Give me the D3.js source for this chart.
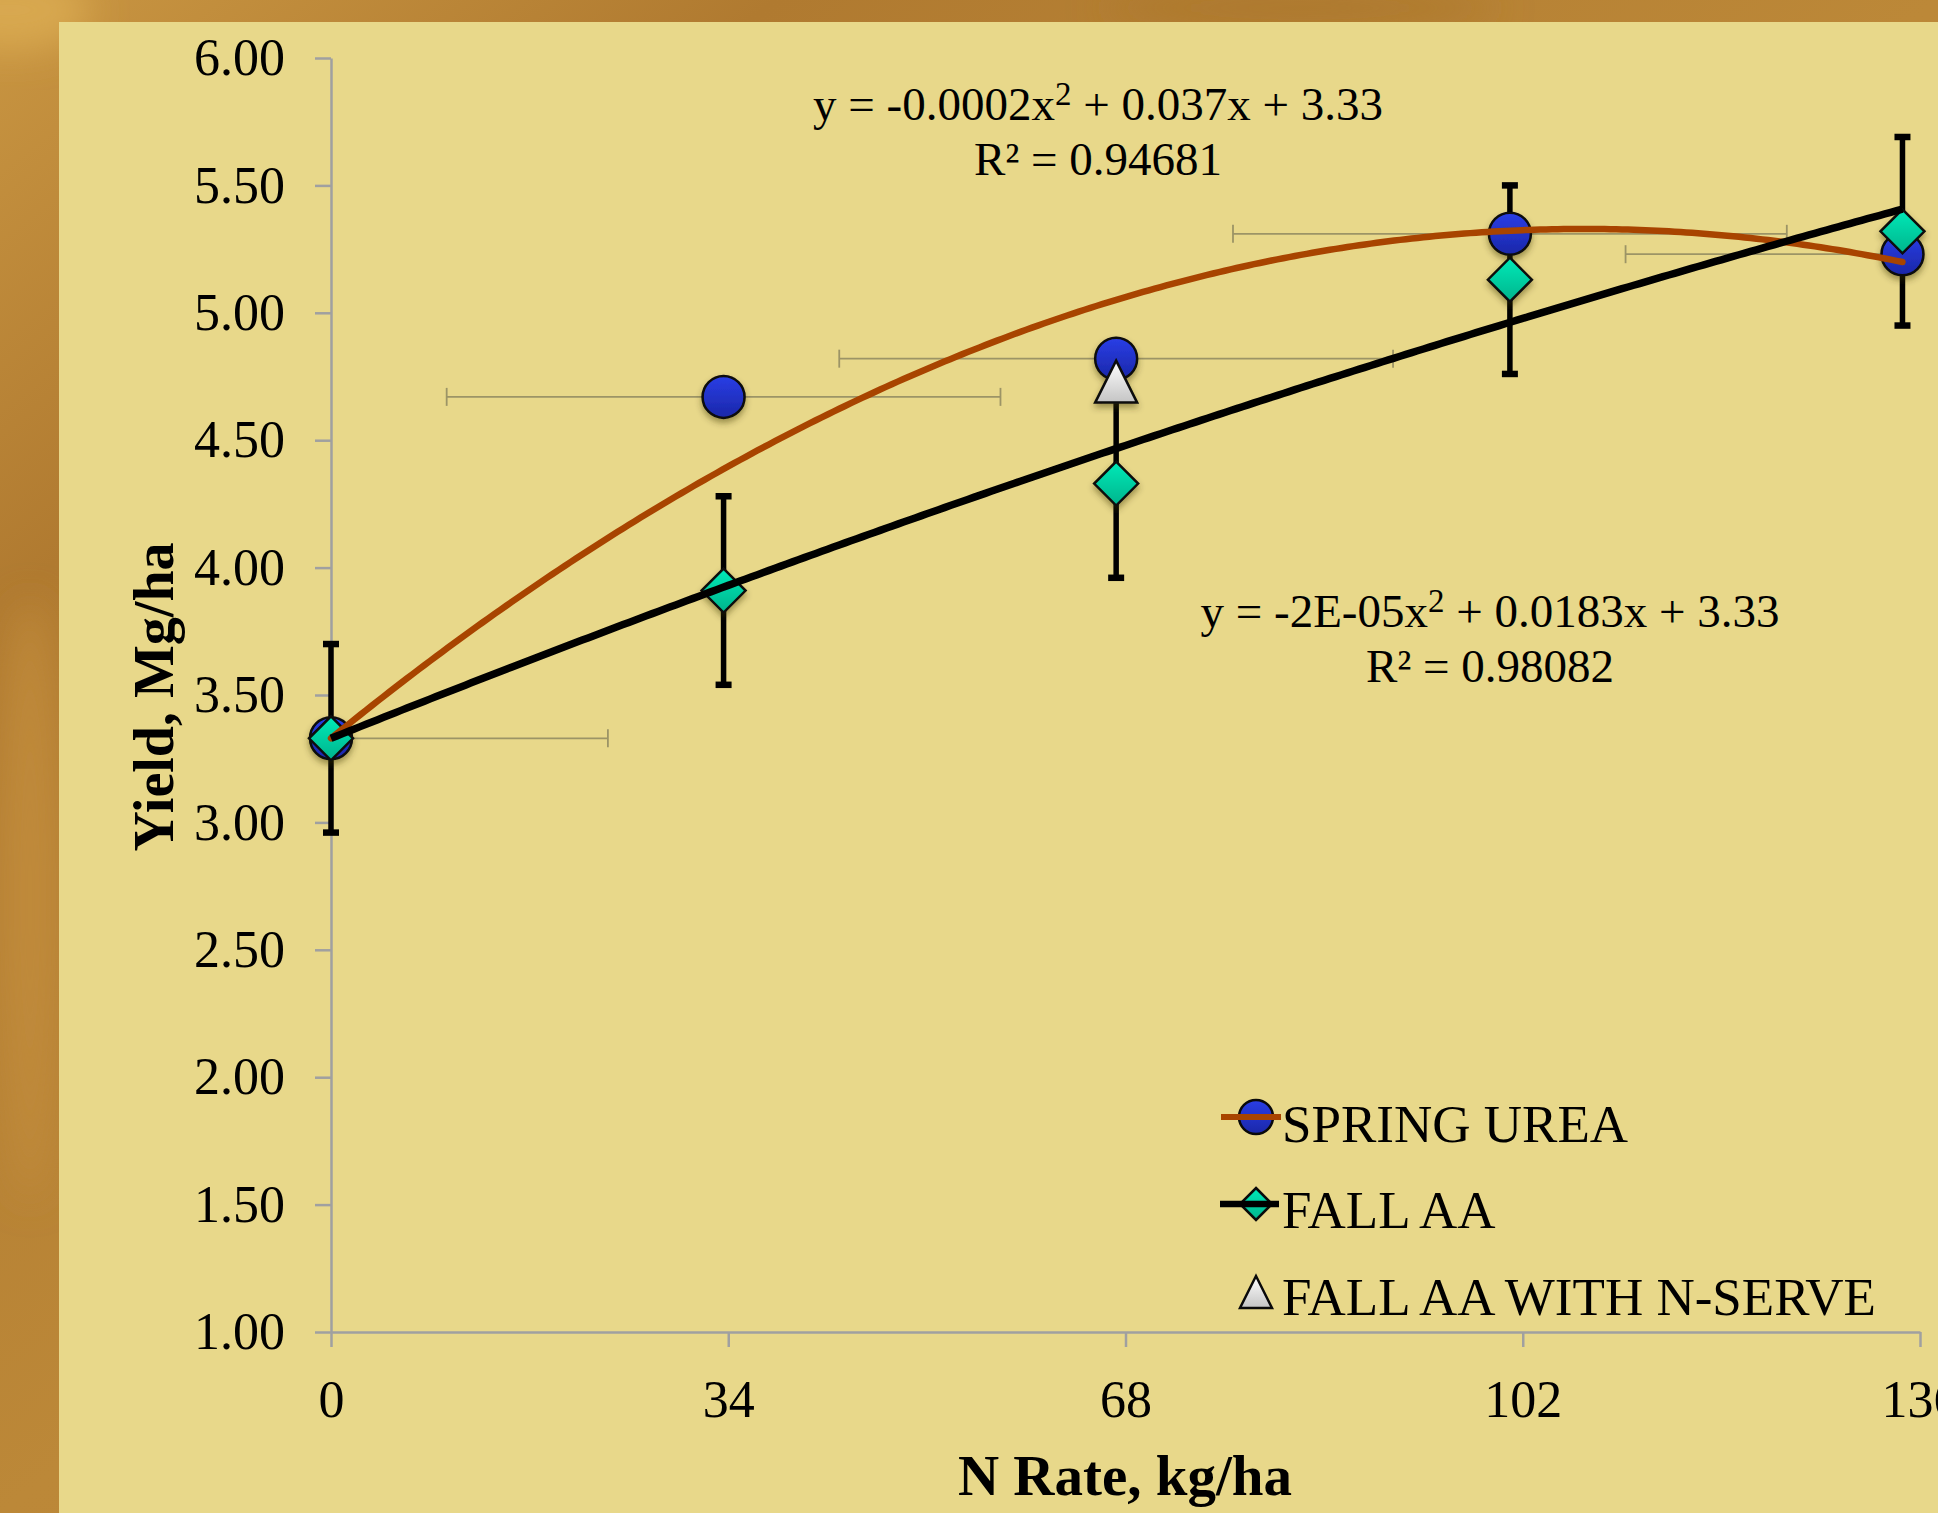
<!DOCTYPE html>
<html>
<head>
<meta charset="utf-8">
<script src="https://cdn.jsdelivr.net/npm/d3@7"></script>
<style>
  html, body { margin: 0; padding: 0; background: #b47f35; }
  svg { display: block; }
  text { font-family: "Liberation Serif", "Times New Roman", serif; fill: #000; }
</style>
</head>
<body>
<div id="chart"></div>
<script>
// N rate (kg/ha) for each treatment level
var nRate = [0, 33.6, 67.2, 100.9, 134.5];
// yields, Mg/ha
var springUrea = [3.33, 4.67, 4.82, 5.31, 5.23];
var fallAA = [3.33, 3.91, 4.33, 5.13, 5.32];
var nServeRate = [67.2];
var nServe = [4.73];
// error bars
var fallAAErr = [0.37, 0.37, 0.37, 0.37, 0.37];
var springUreaXErr = [23.7, 23.7, 23.7, 23.7, 23.7];
// trendline coefficients [x^2, x, const]
var springFit = [-0.000174, 0.0373, 3.33];
var fallFit = [-0.000022, 0.0184, 3.33];
// axis ticks
var xTicks = [0, 34, 68, 102, 136];
var yTicks = [1, 1.5, 2, 2.5, 3, 3.5, 4, 4.5, 5, 5.5, 6];
var legendNames = ["SPRING UREA", "FALL AA", "FALL AA WITH N-SERVE"];

var W = 1938, H = 1513;
var svg = d3.select("#chart").append("svg").attr("width", W).attr("height", H);
var defs = svg.append("defs");

// backdrop gradient (brown slide background)
var bg = defs.append("linearGradient").attr("id", "bg").attr("x1", 0).attr("y1", 0).attr("x2", 1).attr("y2", 1);
bg.append("stop").attr("offset", "0%").attr("stop-color", "#c99642");
bg.append("stop").attr("offset", "20%").attr("stop-color", "#b07a30");
bg.append("stop").attr("offset", "50%").attr("stop-color", "#bc8838");
bg.append("stop").attr("offset", "100%").attr("stop-color", "#b47e33");

function vGrad(id, top, bottom) {
    var g = defs.append("linearGradient").attr("id", id).attr("x1", 0).attr("y1", 0).attr("x2", 0).attr("y2", 1);
    g.append("stop").attr("offset", "0%").attr("stop-color", top);
    g.append("stop").attr("offset", "100%").attr("stop-color", bottom);
}
vGrad("gBlue", "#2a3ee6", "#1a27a8");
vGrad("gTeal", "#00eab8", "#00b48c");
vGrad("gWhite", "#ffffff", "#c4c4c4");

var blur = defs.append("filter").attr("id", "soft").attr("x", "-50%").attr("y", "-50%").attr("width", "200%").attr("height", "200%");
blur.append("feGaussianBlur").attr("stdDeviation", 18);

var shadow = defs.append("filter").attr("id", "shadow").attr("x", "-50%").attr("y", "-50%").attr("width", "200%").attr("height", "200%");
shadow.append("feDropShadow").attr("dx", 0).attr("dy", 4).attr("stdDeviation", 3)
    .attr("flood-color", "#3a3000").attr("flood-opacity", 0.45);

svg.append("rect").attr("width", W).attr("height", H).attr("fill", "url(#bg)");
// some mottling on the backdrop
svg.append("ellipse").attr("cx", 10).attr("cy", 10).attr("rx", 80).attr("ry", 40).attr("fill", "#d8a850").attr("filter", "url(#soft)");
svg.append("ellipse").attr("cx", 30).attr("cy", 900).attr("rx", 30).attr("ry", 300).attr("fill", "#c08a3a").attr("filter", "url(#soft)");
svg.append("ellipse").attr("cx", 1300).attr("cy", 8).attr("rx", 200).attr("ry", 12).attr("fill", "#a8742c").attr("filter", "url(#soft)");

// chart panel
svg.append("rect").attr("x", 59).attr("y", 22).attr("width", W - 59).attr("height", H - 22).attr("fill", "#e8d88a");

var x = d3.scaleLinear().domain([0, 136]).range([331, 1920]);
var y = d3.scaleLinear().domain([1, 6]).range([1332, 58]);

defs.append("clipPath").attr("id", "plotClip").append("rect")
    .attr("x", x(0)).attr("y", y(6)).attr("width", x(136) - x(0)).attr("height", y(1) - y(6));

// axes
var yAxis = svg.append("g").attr("transform", "translate(" + x(0) + ",0)")
    .call(d3.axisLeft(y).tickValues(yTicks).tickFormat(d3.format(".2f")).tickSize(16).tickSizeOuter(0).tickPadding(30));
var xAxis = svg.append("g").attr("transform", "translate(0," + y(1) + ")")
    .call(d3.axisBottom(x).tickValues(xTicks).tickSize(15).tickSizeOuter(0).tickPadding(33));
[xAxis, yAxis].forEach(function(a){
    a.select(".domain").attr("stroke", "#a0a0a0").attr("stroke-width", 2.5);
    a.selectAll(".tick line").attr("stroke", "#a0a0a0").attr("stroke-width", 2.5);
    a.selectAll(".tick text").style("font-family", '"Liberation Serif", "Times New Roman", serif')
        .style("font-size", "52px").attr("fill", "#000");
});

// axis titles
svg.append("text").attr("x", 1125).attr("y", 1495).attr("text-anchor", "middle")
    .style("font-size", "57px").style("font-weight", "bold").text("N Rate, kg/ha");
svg.append("text").attr("transform", "translate(173,697) rotate(-90)").attr("text-anchor", "middle")
    .style("font-size", "56px").style("font-weight", "bold").text("Yield, Mg/ha");

// horizontal error bars on spring urea
var hErr = svg.append("g").attr("clip-path", "url(#plotClip)").attr("stroke", "#9c9466").attr("stroke-width", 1.8);
nRate.forEach(function(r, i){
    var yy = y(springUrea[i]), x0 = x(r - springUreaXErr[i]), x1 = x(r + springUreaXErr[i]);
    hErr.append("line").attr("x1", x0).attr("x2", x1).attr("y1", yy).attr("y2", yy);
    [x0, x1].forEach(function(xx){
        hErr.append("line").attr("x1", xx).attr("x2", xx).attr("y1", yy - 9).attr("y2", yy + 9);
    });
});

// vertical error bars on fall AA
var vErr = svg.append("g").attr("stroke", "#000");
nRate.forEach(function(r, i){
    var xx = x(r), y0 = y(fallAA[i] - fallAAErr[i]), y1 = y(fallAA[i] + fallAAErr[i]);
    vErr.append("line").attr("x1", xx).attr("x2", xx).attr("y1", y0).attr("y2", y1).attr("stroke-width", 5.5);
    [y0, y1].forEach(function(yy){
        vErr.append("line").attr("x1", xx - 8).attr("x2", xx + 8).attr("y1", yy).attr("y2", yy).attr("stroke-width", 6.5);
    });
});

// marker drawing helpers
function circleMark(g, cx, cy, r) {
    g.append("circle").attr("cx", cx).attr("cy", cy).attr("r", r)
        .attr("fill", "url(#gBlue)").attr("stroke", "#0a0a0a").attr("stroke-width", 2.5);
}
function diamondMark(g, cx, cy, r) {
    g.append("path").attr("d", "M" + cx + "," + (cy - r) + "L" + (cx + r) + "," + cy + "L" + cx + "," + (cy + r) + "L" + (cx - r) + "," + cy + "Z")
        .attr("fill", "url(#gTeal)").attr("stroke", "#0a0a0a").attr("stroke-width", 2.5).attr("stroke-linejoin", "miter");
}
function triangleMark(g, cx, cy, r) {
    g.append("path").attr("d", "M" + cx + "," + (cy - r) + "L" + (cx + r) + "," + (cy + r) + "L" + (cx - r) + "," + (cy + r) + "Z")
        .attr("fill", "url(#gWhite)").attr("stroke", "#0a0a0a").attr("stroke-width", 2.5);
}

var marks = svg.append("g").attr("filter", "url(#shadow)");
nRate.forEach(function(r, i){ circleMark(marks, x(r), y(springUrea[i]), 21); });
nRate.forEach(function(r, i){ diamondMark(marks, x(r), y(fallAA[i]), 22); });
nServeRate.forEach(function(r, i){ triangleMark(marks, x(r), y(nServe[i]), 21); });

// trendlines
function fitLine(c) {
    return d3.range(0, 134.5 + 0.01, 0.5).map(function(v){
        var xv = Math.min(v, 134.5);
        return [x(xv), y(c[0] * xv * xv + c[1] * xv + c[2])];
    });
}
svg.append("path").attr("d", d3.line()(fitLine(springFit))).attr("fill", "none")
    .attr("stroke", "#a84400").attr("stroke-width", 6.5).attr("stroke-linecap", "round");
svg.append("path").attr("d", d3.line()(fitLine(fallFit))).attr("fill", "none")
    .attr("stroke", "#000").attr("stroke-width", 7.5).attr("stroke-linecap", "butt");

// trendline equations
function equation(cx, by, a, rest, r2) {
    var t = svg.append("text").attr("x", cx).attr("y", by).attr("text-anchor", "middle").style("font-size", "47px");
    t.append("tspan").text(a);
    t.append("tspan").attr("dy", -15).style("font-size", "33px").text("2");
    t.append("tspan").attr("dy", 15).text(rest);
    svg.append("text").attr("x", cx).attr("y", by + 55).attr("text-anchor", "middle").style("font-size", "47px").text(r2);
}
equation(1098, 120, "y = -0.0002x", " + 0.037x + 3.33", "R\u00b2 = 0.94681");
equation(1490, 627, "y = -2E-05x", " + 0.0183x + 3.33", "R\u00b2 = 0.98082");

// legend
var leg = svg.append("g");
var legY = [1117, 1204, 1292];
var legText = [1142, 1228, 1315];
circleMark(leg, 1256, legY[0], 17);
leg.append("line").attr("x1", 1221).attr("x2", 1281).attr("y1", legY[0]).attr("y2", legY[0]).attr("stroke", "#a84400").attr("stroke-width", 6);
diamondMark(leg, 1256, legY[1], 16);
leg.append("line").attr("x1", 1220).attr("x2", 1279).attr("y1", legY[1]).attr("y2", legY[1]).attr("stroke", "#000").attr("stroke-width", 6.5);
triangleMark(leg, 1256, legY[2], 16);
legendNames.forEach(function(n, i){
    leg.append("text").attr("x", 1282).attr("y", legText[i]).style("font-size", "53px").text(n);
});
</script>
</body>
</html>
